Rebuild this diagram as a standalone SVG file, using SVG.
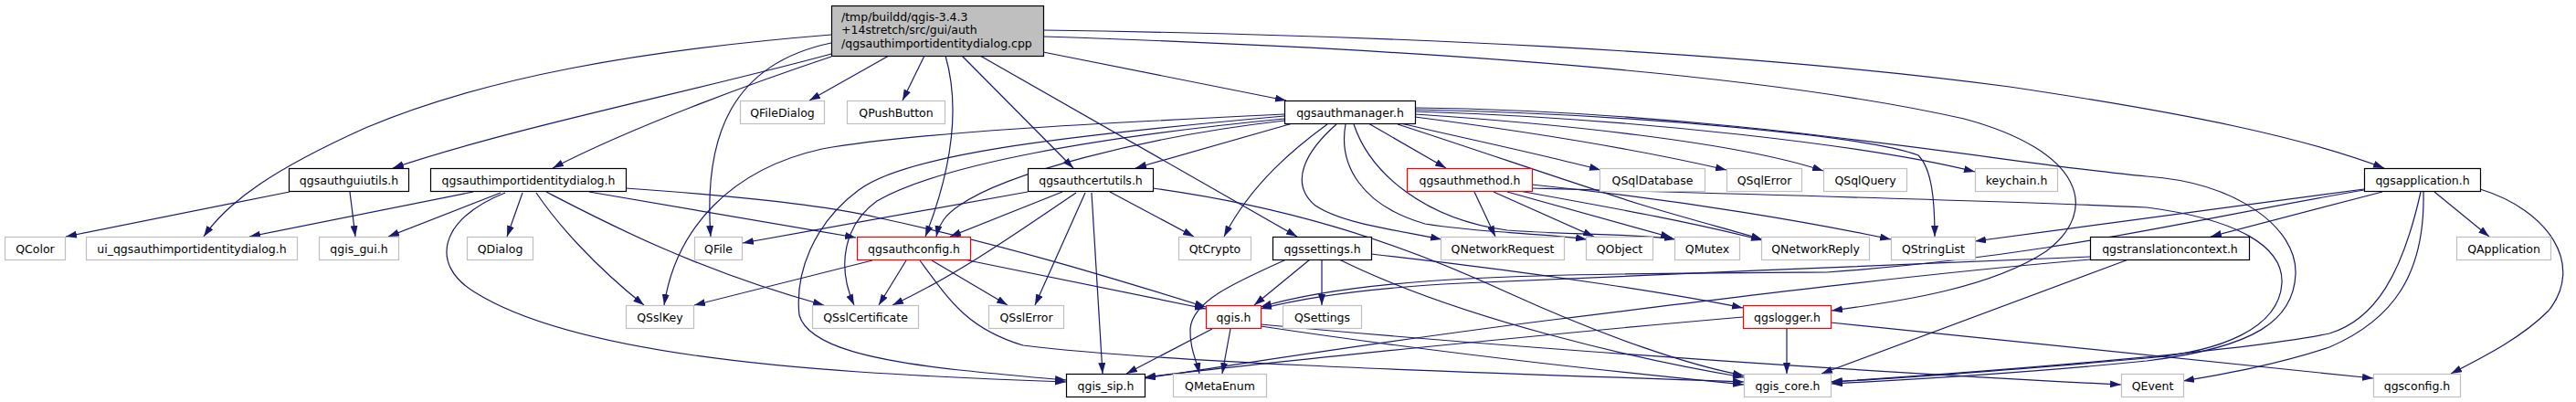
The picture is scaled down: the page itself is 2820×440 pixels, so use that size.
<svg xmlns="http://www.w3.org/2000/svg" width="2820" height="440" viewBox="0 0 2820 440">
<defs>
<marker id="ah" markerUnits="userSpaceOnUse" markerWidth="13" markerHeight="9" refX="12" refY="4" orient="auto"><path d="M0,0 L12,4 L0,8 z" fill="#191970"/></marker>
<style>
.e path{fill:none;stroke:#191970;stroke-width:1.2;marker-end:url(#ah)}
.n rect{fill:#fff;stroke-width:1.2}
.g rect{stroke:#bfbfbf}
.b rect{stroke:#000}
.r rect{stroke:#ff0000}
.t rect{fill:#bfbfbf;stroke:#000}
text{font-family:"DejaVu Sans","Liberation Sans",sans-serif;font-size:12.5px;fill:#000;text-anchor:middle}
text.l{text-anchor:start}
</style>
</defs>
<rect width="2820" height="440" fill="#fff"/>
<g id="edges" class="e">
<path d="M973,61 L886,110"/>
<path d="M1012,61 L988,110"/>
<path d="M910,59 C760,100 560,140 430,184"/>
<path d="M910,62 C820,92 690,140 605,184"/>
<path d="M910,38 C700,55 530,85 400,140 C300,185 250,220 223,259"/>
<path d="M910,47 C800,70 770,150 778,259"/>
<path d="M1035,61 C1052,120 1040,190 1013,259"/>
<path d="M1053,61 L1175,184"/>
<path d="M1073,61 L1420,259"/>
<path d="M1142,57 L1408,110"/>
<path d="M1142,33 C1500,38 1900,55 2200,95 C2400,125 2520,150 2610,184"/>
<path d="M1142,40 C1600,55 1950,85 2150,130 C2280,165 2300,230 2240,275 C2180,315 2080,330 2005,340"/>
<path d="M317,210 L72,259"/>
<path d="M383,210 L389,259"/>
<path d="M518,210 L273,259"/>
<path d="M548,211 L425,259"/>
<path d="M572,211 L555,259"/>
<path d="M587,211 C610,245 650,290 705,334"/>
<path d="M598,210 C660,242 760,295 902,334"/>
<path d="M645,210 L937,260"/>
<path d="M685,206 C800,214 900,224 960,238 C1100,268 1220,305 1320,336"/>
<path d="M553,211 C480,240 470,290 520,320 C600,370 760,395 940,407 C1030,413 1110,416 1167,418"/>
<path d="M1415,135 L1243,184"/>
<path d="M1453,136 C1420,160 1370,200 1340,259"/>
<path d="M1463,136 C1430,165 1410,200 1440,225 C1470,245 1530,252 1578,262"/>
<path d="M1473,136 C1465,180 1490,225 1560,245 C1620,255 1690,255 1737,262"/>
<path d="M1482,136 C1500,190 1560,240 1650,252 C1740,258 1800,256 1834,262"/>
<path d="M1498,135 L1583,184"/>
<path d="M1530,136 C1620,165 1720,200 1800,225 C1860,243 1900,253 1929,262"/>
<path d="M1533,135 C1620,155 1700,172 1752,186"/>
<path d="M1549,128 C1680,145 1800,165 1890,186"/>
<path d="M1549,125 C1700,135 1900,155 1996,187"/>
<path d="M1549,122 C1800,130 2050,160 2162,188"/>
<path d="M1549,120 C1800,125 2050,150 2100,170 C2115,185 2118,220 2118,259"/>
<path d="M1549,118 C1900,122 2200,180 2350,193 C2450,200 2515,250 2513,300 C2511,350 2470,380 2350,395 C2200,410 2080,416 2005,420"/>
<path d="M1406,125 C1200,135 1000,145 900,163 C800,185 740,250 727,334"/>
<path d="M1406,127 C1150,150 990,170 940,208 C890,245 870,300 875,345 C885,380 960,395 1050,405 C1100,410 1140,414 1167,416"/>
<path d="M1406,130 C1200,150 1030,180 960,220 C925,245 915,290 935,334"/>
<path d="M1406,132 C1250,150 1100,190 1050,225 C1035,235 1028,245 1025,259"/>
<path d="M1163,210 L1040,259"/>
<path d="M1178,211 C1120,250 1050,300 977,334"/>
<path d="M1188,211 L1133,334"/>
<path d="M1195,211 L1207,409"/>
<path d="M1215,210 L1307,259"/>
<path d="M1125,210 L813,266"/>
<path d="M1262,206 C1400,225 1520,260 1650,320 C1760,370 1850,400 1909,411"/>
<path d="M955,285 L760,334"/>
<path d="M992,285 L962,334"/>
<path d="M1020,285 L1103,334"/>
<path d="M1055,284 L1320,338"/>
<path d="M1007,285 C1040,330 1060,360 1120,378 C1300,400 1700,410 1909,418"/>
<path d="M1434,284 L1373,334"/>
<path d="M1447,284 L1447,334"/>
<path d="M1408,284 C1350,310 1305,330 1303,360 C1302,380 1310,395 1313,409"/>
<path d="M1466,284 C1600,350 1800,395 1909,413"/>
<path d="M1501,278 C1700,300 1850,325 1908,337"/>
<path d="M1614,210 L1637,259"/>
<path d="M1635,210 L1745,259"/>
<path d="M1650,210 L1830,260"/>
<path d="M1663,209 C1780,230 1860,245 1929,263"/>
<path d="M1677,202 C1850,220 1990,245 2070,262"/>
<path d="M1677,206 C1900,212 2200,220 2350,227 C2450,240 2500,270 2498,310 C2495,360 2430,385 2350,392 C2200,405 2080,414 2005,418"/>
<path d="M1327,360 L1233,409"/>
<path d="M1347,360 L1338,409"/>
<path d="M1380,357 C1600,390 1800,410 1909,421"/>
<path d="M1380,355 C1700,385 2100,410 2322,421"/>
<path d="M1956,359 L1956,409"/>
<path d="M2004,353 L2598,414"/>
<path d="M1908,347 C1700,365 1400,395 1253,413"/>
<path d="M2588,207 L2162,264"/>
<path d="M2608,210 L2420,259"/>
<path d="M2665,210 L2725,259"/>
<path d="M2653,210 C2655,300 2620,350 2550,380 C2490,400 2430,410 2390,417"/>
<path d="M2650,210 C2630,300 2600,350 2550,365 C2450,385 2200,405 2004,418"/>
<path d="M2715,207 C2790,230 2830,290 2790,340 C2760,370 2720,390 2683,409"/>
<path d="M2588,208 C2400,240 2250,280 2000,298 C1700,300 1500,300 1380,336"/>
<path d="M2288,281 C2100,290 1800,300 1600,310 C1500,315 1430,325 1380,338"/>
<path d="M2288,284 C2100,300 1900,325 1700,350 C1500,375 1350,400 1253,414"/>
<path d="M2330,284 L1994,409"/>
</g>
<g id="n_top" class="n t"><rect x="910.5" y="6.5" width="232" height="55"/><text class="l" x="921" y="22.5">/tmp/buildd/qgis-3.4.3</text><text class="l" x="921" y="37">+14stretch/src/gui/auth</text><text class="l" x="921" y="51.5">/qgsauthimportidentitydialog.cpp</text></g>
<g id="n_qfiledialog" class="n g"><rect x="810.5" y="110.5" width="92" height="25"/><text x="856.5" y="127.5">QFileDialog</text></g>
<g id="n_qpushbutton" class="n g"><rect x="927.5" y="110.5" width="107" height="25"/><text x="981" y="127.5">QPushButton</text></g>
<g id="n_qgsauthmanager" class="n b"><rect x="1406.5" y="110.5" width="143" height="25"/><text x="1478" y="127.5">qgsauthmanager.h</text></g>
<g id="n_qgsauthguiutils" class="n b"><rect x="316.5" y="184.5" width="131" height="25"/><text x="382" y="201.5">qgsauthguiutils.h</text></g>
<g id="n_qgsauthimportidentitydialog" class="n b"><rect x="471.5" y="184.5" width="214" height="25"/><text x="578.5" y="201.5">qgsauthimportidentitydialog.h</text></g>
<g id="n_qgsauthcertutils" class="n b"><rect x="1125.5" y="184.5" width="137" height="25"/><text x="1194" y="201.5">qgsauthcertutils.h</text></g>
<g id="n_qgsauthmethod" class="n r"><rect x="1540.5" y="184.5" width="137" height="25"/><text x="1609" y="201.5">qgsauthmethod.h</text></g>
<g id="n_qsqldatabase" class="n g"><rect x="1751.5" y="184.5" width="115" height="25"/><text x="1809" y="201.5">QSqlDatabase</text></g>
<g id="n_qsqlerror" class="n g"><rect x="1890.5" y="184.5" width="82" height="25"/><text x="1931.5" y="201.5">QSqlError</text></g>
<g id="n_qsqlquery" class="n g"><rect x="1996.5" y="184.5" width="91" height="25"/><text x="2042" y="201.5">QSqlQuery</text></g>
<g id="n_keychain" class="n g"><rect x="2162.5" y="184.5" width="90" height="25"/><text x="2207.5" y="201.5">keychain.h</text></g>
<g id="n_qgsapplication" class="n b"><rect x="2588.5" y="184.5" width="127" height="25"/><text x="2652" y="201.5">qgsapplication.h</text></g>
<g id="n_qcolor" class="n g"><rect x="5.5" y="259.5" width="66" height="25"/><text x="38.5" y="276.5">QColor</text></g>
<g id="n_ui_dialog" class="n g"><rect x="94.5" y="259.5" width="231" height="25"/><text x="210" y="276.5">ui_qgsauthimportidentitydialog.h</text></g>
<g id="n_qgis_gui" class="n g"><rect x="349.5" y="259.5" width="87" height="25"/><text x="393" y="276.5">qgis_gui.h</text></g>
<g id="n_qdialog" class="n g"><rect x="511.5" y="259.5" width="72" height="25"/><text x="547.5" y="276.5">QDialog</text></g>
<g id="n_qfile" class="n g"><rect x="760.5" y="259.5" width="52" height="25"/><text x="786.5" y="276.5">QFile</text></g>
<g id="n_qgsauthconfig" class="n r"><rect x="938.5" y="259.5" width="124" height="25"/><text x="1000.5" y="276.5">qgsauthconfig.h</text></g>
<g id="n_qtcrypto" class="n g"><rect x="1290.5" y="259.5" width="79" height="25"/><text x="1330" y="276.5">QtCrypto</text></g>
<g id="n_qgssettings" class="n b"><rect x="1393.5" y="259.5" width="108" height="25"/><text x="1447.5" y="276.5">qgssettings.h</text></g>
<g id="n_qnetworkrequest" class="n g"><rect x="1577.5" y="259.5" width="135" height="25"/><text x="1645" y="276.5">QNetworkRequest</text></g>
<g id="n_qobject" class="n g"><rect x="1736.5" y="259.5" width="73" height="25"/><text x="1773" y="276.5">QObject</text></g>
<g id="n_qmutex" class="n g"><rect x="1833.5" y="259.5" width="71" height="25"/><text x="1869" y="276.5">QMutex</text></g>
<g id="n_qnetworkreply" class="n g"><rect x="1928.5" y="259.5" width="118" height="25"/><text x="1987.5" y="276.5">QNetworkReply</text></g>
<g id="n_qstringlist" class="n g"><rect x="2070.5" y="259.5" width="92" height="25"/><text x="2116.5" y="276.5">QStringList</text></g>
<g id="n_qgstranslationcontext" class="n b"><rect x="2288.5" y="259.5" width="174" height="25"/><text x="2375.5" y="276.5">qgstranslationcontext.h</text></g>
<g id="n_qapplication" class="n g"><rect x="2689.5" y="259.5" width="103" height="25"/><text x="2741" y="276.5">QApplication</text></g>
<g id="n_qsslkey" class="n g"><rect x="685.5" y="334.5" width="74" height="25"/><text x="722.5" y="351.5">QSslKey</text></g>
<g id="n_qsslcertificate" class="n g"><rect x="889.5" y="334.5" width="116" height="25"/><text x="947.5" y="351.5">QSslCertificate</text></g>
<g id="n_qsslerror" class="n g"><rect x="1082.5" y="334.5" width="82" height="25"/><text x="1123.5" y="351.5">QSslError</text></g>
<g id="n_qgis" class="n r"><rect x="1320.5" y="334.5" width="60" height="25"/><text x="1350.5" y="351.5">qgis.h</text></g>
<g id="n_qsettings" class="n g"><rect x="1404.5" y="334.5" width="86" height="25"/><text x="1447.5" y="351.5">QSettings</text></g>
<g id="n_qgslogger" class="n r"><rect x="1908.5" y="334.5" width="96" height="25"/><text x="1956.5" y="351.5">qgslogger.h</text></g>
<g id="n_qgis_sip" class="n b"><rect x="1167.5" y="409.5" width="86" height="25"/><text x="1210.5" y="426.5">qgis_sip.h</text></g>
<g id="n_qmetaenum" class="n g"><rect x="1284.5" y="409.5" width="102" height="25"/><text x="1335.5" y="426.5">QMetaEnum</text></g>
<g id="n_qgis_core" class="n g"><rect x="1909.5" y="409.5" width="95" height="25"/><text x="1957" y="426.5">qgis_core.h</text></g>
<g id="n_qevent" class="n g"><rect x="2322.5" y="409.5" width="68" height="25"/><text x="2356.5" y="426.5">QEvent</text></g>
<g id="n_qgsconfig" class="n g"><rect x="2598.5" y="409.5" width="95" height="25"/><text x="2646" y="426.5">qgsconfig.h</text></g>
</svg>
